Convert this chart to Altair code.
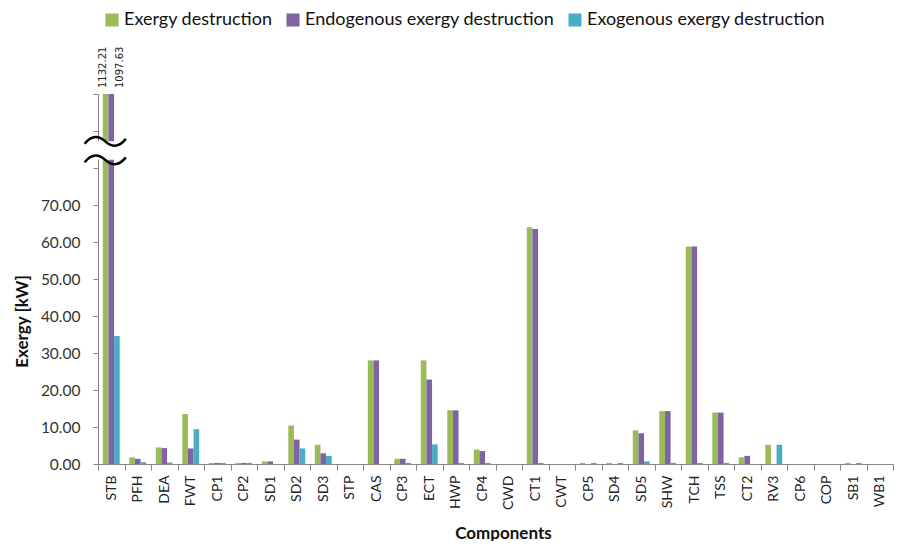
import altair as alt
import pandas as pd

components = ["STB", "PFH", "DEA", "FWT", "CP1", "CP2", "SD1", "SD2", "SD3", "STP",
              "CAS", "CP3", "ECT", "HWP", "CP4", "CWD", "CT1", "CWT", "CP5", "SD4",
              "SD5", "SHW", "TCH", "TSS", "CT2", "RV3", "CP6", "COP", "SB1", "WB1"]

exergy_destruction = [1132.21, 1.8, 4.5, 13.5, 0.3, 0.3, 0.7, 10.4, 5.2, 0.0,
                      28.0, 1.4, 28.0, 14.5, 3.9, 0.0, 64.0, 0.0, 0.3, 0.3,
                      9.1, 14.3, 58.8, 13.9, 1.8, 5.2, 0.0, 0.0, 0.3, 0.0]
endogenous = [1097.63, 1.4, 4.3, 4.2, 0.3, 0.3, 0.7, 6.6, 2.9, 0.0,
              28.0, 1.4, 22.8, 14.5, 3.5, 0.0, 63.5, 0.0, 0.0, 0.0,
              8.3, 14.3, 58.8, 13.9, 2.2, 0.0, 0.0, 0.0, 0.0, 0.0]
exogenous = [34.58, 0.5, 0.4, 9.4, 0.3, 0.3, 0.0, 4.2, 2.2, 0.0,
             0.0, 0.3, 5.3, 0.3, 0.3, 0.0, 0.3, 0.0, 0.3, 0.3,
             0.7, 0.3, 0.3, 0.3, 0.0, 5.2, 0.0, 0.0, 0.3, 0.0]

series_names = ["Exergy destruction", "Endogenous exergy destruction",
                "Exogenous exergy destruction"]
series_colors = ["#9BBB59", "#8064A2", "#4BACC6"]

y_ticks = [0, 10, 20, 30, 40, 50, 60, 70, 80, 90, 100]
axis_top = 100
break_low = 82.2
break_high = 87.2

rows = []
for name, values in zip(series_names, [exergy_destruction, endogenous, exogenous]):
    for comp, val in zip(components, values):
        rows.append({"component": comp, "series": name, "value": val,
                     "shown": axis_top if val > axis_top else val,
                     "label": f"{val:.2f}"})
df = pd.DataFrame(rows)
big = df[df["value"] > axis_top].reset_index(drop=True)
big_first = big[big["series"] == series_names[0]]
big_second = big[big["series"] == series_names[1]]

brk = pd.DataFrame({"component": ["STB"], "shown": [break_low], "hi": [break_high]})
waves = pd.DataFrame({"component": ["STB", "STB"], "shown": [break_low, break_high]})

FONT = "Lato"
GREY = "#868686"

x_axis = alt.Axis(title="Components", labelAngle=270, tickBand="extent",
                  labelFontSize=14, labelColor="#222222", labelPadding=5,
                  domainColor=GREY, tickColor=GREY, tickSize=6,
                  titleFontSize=17, titleFontWeight="bold", titleColor="#111111",
                  titleX=405, titleY=61, titleBaseline="top", titleAlign="center")
y_axis = alt.Axis(title="Exergy [kW]", values=y_ticks, tickCount=11, grid=False,
                  labelExpr="datum.value <= 70 ? format(datum.value, '.2f') : ''",
                  labelOverlap=False, labelFlush=False,
                  labelFontSize=15.5, labelColor="#333333", labelPadding=13,
                  domainColor=GREY, tickColor=GREY, tickSize=5,
                  titleFontSize=17, titleFontWeight="bold", titleColor="#111111",
                  titleX=-76, titleY=227, titleAngle=270,
                  titleBaseline="middle", titleAlign="center")
y_scale = alt.Scale(domain=[0, axis_top], nice=False)

x_enc = alt.X("component:N", sort=components,
              scale=alt.Scale(paddingInner=0, paddingOuter=0), axis=x_axis)
xo_enc = alt.XOffset("series:N", sort=series_names,
                     scale=alt.Scale(domain=series_names, paddingInner=0, paddingOuter=0.85))
y_enc = alt.Y("shown:Q", scale=y_scale, axis=y_axis)

bars = alt.Chart(df).mark_bar().encode(
    x=x_enc, xOffset=xo_enc, y=y_enc,
    color=alt.Color("series:N", sort=series_names,
                    scale=alt.Scale(domain=series_names, range=series_colors),
                    legend=alt.Legend(title=None, orient="none", legendX=5, legendY=-83,
                                      direction="horizontal", symbolType="square",
                                      symbolSize=170, symbolStrokeWidth=0,
                                      labelFontSize=18, labelColor="#111111",
                                      labelLimit=400, columnPadding=11, labelOffset=3)),
)

def value_labels(frame, shift):
    return alt.Chart(frame).mark_text(angle=270, align="left", baseline="middle", dx=6, dy=shift,
                                      fontSize=10, color="#222222", font="DejaVu Sans").encode(
        x=x_enc, y=y_enc, text="label:N")

labels1 = value_labels(big_first, -8)
labels2 = value_labels(big_second, 9)

gap = alt.Chart(brk).mark_rule(color="white", strokeWidth=42, xOffset=-6).encode(
    x=x_enc, y=y_enc, y2="hi:Q")

wave_path = "M-1,0.12 C-0.6,-0.38 -0.25,-0.22 0,0 C0.25,0.22 0.6,0.38 1,-0.12"
wave = alt.Chart(waves).mark_point(shape=wave_path, size=1700, filled=False,
                                   stroke="black", strokeWidth=2.5, opacity=1,
                                   xOffset=-6).encode(x=x_enc, y=y_enc)

chart = alt.layer(bars, labels1, labels2, gap, wave).properties(
    width=795, height=370,
    padding={"left": 5, "top": 3, "right": 0, "bottom": 0},
).configure(font=FONT).configure_view(stroke=None).configure_axisY(labelOverlap=False)

chart.save("out.html", embed_options={"renderer": "svg", "actions": False})
